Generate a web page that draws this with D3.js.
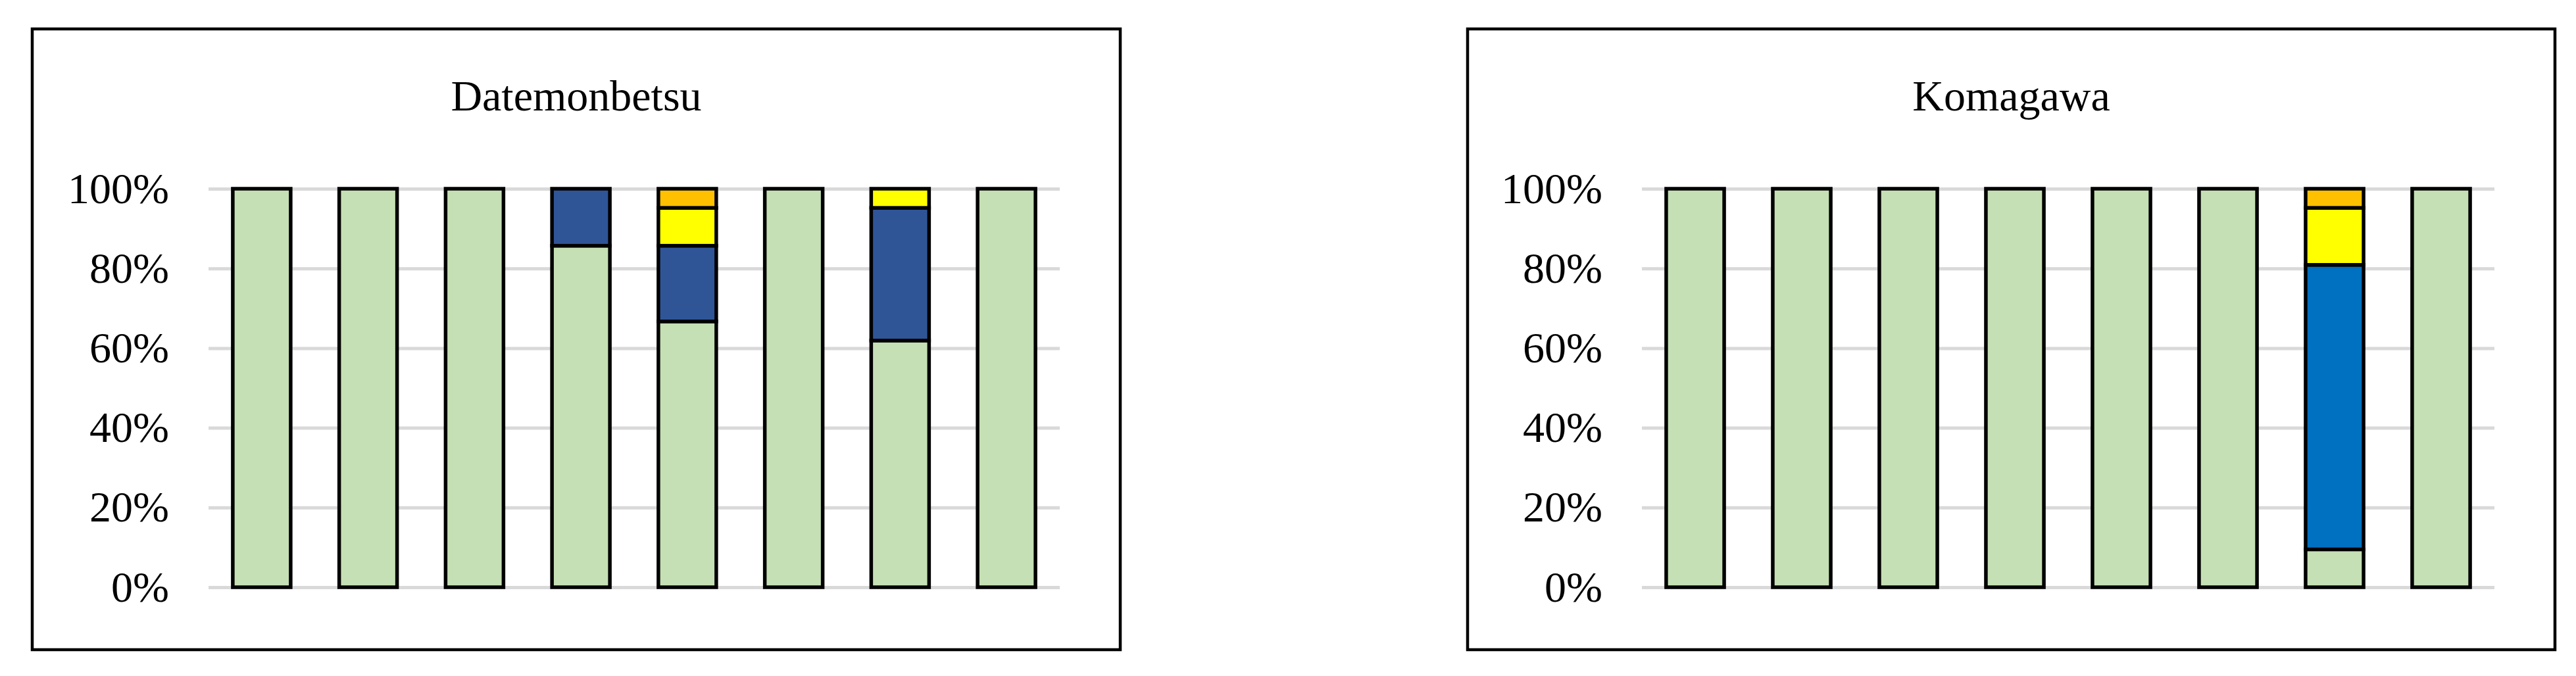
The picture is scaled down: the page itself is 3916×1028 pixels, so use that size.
<!DOCTYPE html>
<html>
<head>
<meta charset="utf-8">
<script src="https://cdn.jsdelivr.net/npm/d3@7"></script>
<style>
  html, body { margin: 0; padding: 0; background: #ffffff; }
  svg { display: block; }
</style>
</head>
<body>
<script>
// ---------------- DATA ----------------
const categories = ["1", "2", "3", "4", "5", "6", "7", "8"];
const seriesKeys = ["Class 1", "Class 2", "Class 3", "Class 4", "Class 5"];
const yTicks = [0, 20, 40, 60, 80, 100];

const panelTitles = ["Datemonbetsu", "Komagawa"];

// Datemonbetsu (percent)
const dateClass1 = [100, 100, 100, 85.7, 66.7, 100, 61.9, 100];
const dateClass2 = [0, 0, 0, 14.3, 19.0, 0, 33.3, 0];
const dateClass3 = [0, 0, 0, 0, 0, 0, 0, 0];
const dateClass4 = [0, 0, 0, 0, 9.5, 0, 4.8, 0];
const dateClass5 = [0, 0, 0, 0, 4.8, 0, 0, 0];

// Komagawa (percent)
const komaClass1 = [100, 100, 100, 100, 100, 100, 9.5, 100];
const komaClass2 = [0, 0, 0, 0, 0, 0, 0, 0];
const komaClass3 = [0, 0, 0, 0, 0, 0, 71.4, 0];
const komaClass4 = [0, 0, 0, 0, 0, 0, 14.3, 0];
const komaClass5 = [0, 0, 0, 0, 0, 0, 4.8, 0];

const seriesColors = ["#C5E0B4", "#2F5597", "#0070C0", "#FFFF00", "#FFC000"];

// ---------------- LAYOUT ----------------
const W = 3916, H = 1028;
const FONT = "'Liberation Serif', 'Times New Roman', serif";

function buildRows(cols) {
  return categories.map((c, i) => {
    const row = { cat: c };
    seriesKeys.forEach((k, j) => { row[k] = cols[j][i]; });
    return row;
  });
}

const panels = [
  { title: panelTitles[0], rows: buildRows([dateClass1, dateClass2, dateClass3, dateClass4, dateClass5]),
    frame: { x: 49, y: 44, w: 1654, h: 944 }, plot: { x0: 317, x1: 1611 } },
  { title: panelTitles[1], rows: buildRows([komaClass1, komaClass2, komaClass3, komaClass4, komaClass5]),
    frame: { x: 2231, y: 44, w: 1653, h: 944 }, plot: { x0: 2496, x1: 3792 } }
];

const yTop = 287, yBottom = 893;

const svg = d3.select("body").append("svg")
  .attr("width", W).attr("height", H)
  .attr("viewBox", `0 0 ${W} ${H}`);

svg.append("rect").attr("width", W).attr("height", H).attr("fill", "#ffffff");

const color = d3.scaleOrdinal().domain(seriesKeys).range(seriesColors);
const stack = d3.stack().keys(seriesKeys);

panels.forEach(p => {
  const g = svg.append("g");

  // frame
  g.append("rect")
    .attr("x", p.frame.x).attr("y", p.frame.y)
    .attr("width", p.frame.w).attr("height", p.frame.h)
    .attr("fill", "#ffffff").attr("stroke", "#000000").attr("stroke-width", 4.5);

  // title
  g.append("text")
    .attr("x", p.frame.x + p.frame.w / 2)
    .attr("y", 168)
    .attr("text-anchor", "middle")
    .attr("font-family", FONT)
    .attr("font-size", 66)
    .attr("fill", "#000000")
    .text(p.title);

  const x = d3.scaleBand()
    .domain(categories)
    .range([p.plot.x0, p.plot.x1])
    .paddingInner(0.456)
    .paddingOuter(0.228);

  const y = d3.scaleLinear().domain([0, 100]).range([yBottom, yTop]);

  // gridlines
  const grid = g.append("g")
    .attr("transform", `translate(${p.plot.x0},0)`)
    .call(d3.axisLeft(y).tickValues(yTicks).tickSize(-(p.plot.x1 - p.plot.x0)).tickFormat(""));
  grid.select(".domain").remove();
  grid.selectAll(".tick line").attr("stroke", "#d9d9d9").attr("stroke-width", 5);

  // y labels
  const ya = g.append("g")
    .attr("transform", `translate(${p.plot.x0},0)`)
    .call(d3.axisLeft(y).tickValues(yTicks).tickSize(0).tickPadding(60).tickFormat(d => d + "%"));
  ya.select(".domain").remove();
  ya.selectAll(".tick text")
    .attr("font-family", FONT)
    .attr("font-size", 66)
    .attr("fill", "#000000");

  // stacked bars
  const stacked = stack(p.rows);
  const layers = g.append("g").selectAll("g")
    .data(stacked)
    .join("g")
    .attr("fill", d => color(d.key));

  layers.selectAll("rect")
    .data(d => d.filter(s => s[1] - s[0] > 0))
    .join("rect")
    .attr("x", d => x(d.data.cat))
    .attr("width", x.bandwidth())
    .attr("y", d => y(d[1]))
    .attr("height", d => y(d[0]) - y(d[1]))
    .attr("stroke", "#000000")
    .attr("stroke-width", 5.5)
    .attr("stroke-linejoin", "miter");
});
</script>
</body>
</html>
